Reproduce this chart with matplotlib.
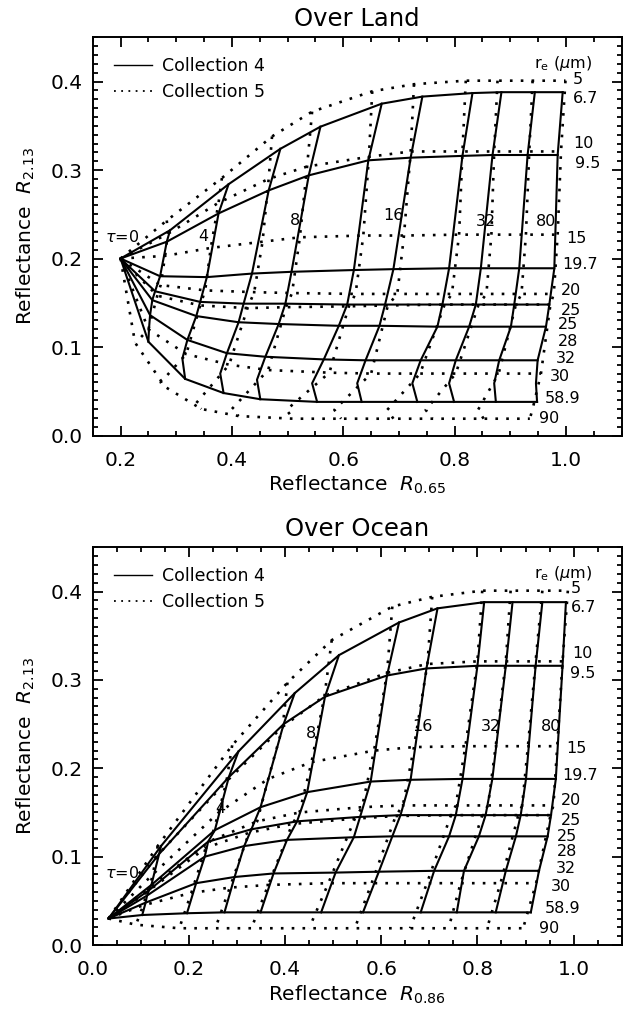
import matplotlib.pyplot as plt
import numpy as np

plt.rcParams['font.family'] = 'DejaVu Sans'
plt.rcParams['mathtext.fontset'] = 'dejavusans'

# ---------------- Over Land ----------------
# rows = effective radius, columns = optical thickness (tau = 0 ... 80+)
# an empty name marks a LUT radius that only bends the tau lines (no r_e curve drawn)
land_c4_re = ['6.7', '9.5', '19.7', '25', '28', '32', '', '58.9']
land_c4_x = [
    [0.200, 0.289, 0.394, 0.487, 0.559, 0.669, 0.742, 0.832, 0.884, 0.944, 0.994],
    [0.200, 0.283, 0.376, 0.466, 0.538, 0.645, 0.721, 0.814, 0.868, 0.931, 0.985],
    [0.200, 0.271, 0.355, 0.436, 0.507, 0.619, 0.690, 0.790, 0.847, 0.916, 0.979],
    [0.200, 0.262, 0.343, 0.421, 0.496, 0.607, 0.675, 0.778, 0.838, 0.907, 0.970],
    [0.200, 0.257, 0.336, 0.412, 0.484, 0.592, 0.665, 0.769, 0.826, 0.901, 0.964],
    [0.200, 0.253, 0.320, 0.391, 0.460, 0.565, 0.640, 0.739, 0.802, 0.880, 0.949],
    [0.200, 0.251, 0.311, 0.379, 0.445, 0.544, 0.625, 0.724, 0.790, 0.871, 0.946],
    [0.200, 0.250, 0.316, 0.385, 0.451, 0.553, 0.633, 0.733, 0.799, 0.874, 0.948],
]
land_c4_y = [
    [0.200, 0.232, 0.284, 0.324, 0.349, 0.375, 0.383, 0.387, 0.388, 0.388, 0.388],
    [0.200, 0.219, 0.251, 0.277, 0.294, 0.311, 0.314, 0.316, 0.317, 0.317, 0.317],
    [0.200, 0.180, 0.179, 0.183, 0.185, 0.187, 0.188, 0.189, 0.189, 0.189, 0.189],
    [0.200, 0.163, 0.151, 0.149, 0.149, 0.148, 0.148, 0.148, 0.148, 0.148, 0.148],
    [0.200, 0.153, 0.135, 0.128, 0.126, 0.124, 0.124, 0.123, 0.123, 0.123, 0.123],
    [0.200, 0.136, 0.108, 0.093, 0.089, 0.086, 0.085, 0.085, 0.085, 0.085, 0.085],
    [0.200, 0.120, 0.087, 0.070, 0.063, 0.059, 0.059, 0.059, 0.059, 0.059, 0.059],
    [0.200, 0.106, 0.064, 0.048, 0.041, 0.038, 0.038, 0.038, 0.038, 0.038, 0.038],
]

land_c5_re = ['5', '10', '15', '20', '25', '30', '', '90']
land_c5_x = [
    [0.200, 0.283, 0.382, 0.472, 0.544, 0.652, 0.727, 0.820, 0.877, 0.940, 0.999],
    [0.200, 0.285, 0.376, 0.466, 0.535, 0.646, 0.721, 0.814, 0.871, 0.934, 0.991],
    [0.200, 0.280, 0.362, 0.455, 0.522, 0.636, 0.709, 0.808, 0.866, 0.928, 0.985],
    [0.200, 0.272, 0.352, 0.440, 0.508, 0.622, 0.697, 0.795, 0.857, 0.920, 0.978],
    [0.200, 0.266, 0.343, 0.428, 0.497, 0.610, 0.680, 0.782, 0.843, 0.910, 0.972],
    [0.200, 0.250, 0.318, 0.395, 0.465, 0.575, 0.650, 0.738, 0.802, 0.879, 0.955],
    [0.200, 0.232, 0.272, 0.335, 0.400, 0.498, 0.584, 0.679, 0.748, 0.842, 0.940],
    [0.200, 0.226, 0.280, 0.345, 0.412, 0.510, 0.596, 0.690, 0.760, 0.852, 0.935],
]
land_c5_y = [
    [0.200, 0.243, 0.291, 0.338, 0.366, 0.389, 0.397, 0.401, 0.401, 0.401, 0.401],
    [0.200, 0.228, 0.263, 0.290, 0.304, 0.315, 0.321, 0.321, 0.321, 0.321, 0.321],
    [0.200, 0.203, 0.212, 0.219, 0.224, 0.226, 0.226, 0.227, 0.227, 0.227, 0.227],
    [0.200, 0.170, 0.164, 0.162, 0.161, 0.160, 0.160, 0.160, 0.160, 0.160, 0.160],
    [0.200, 0.158, 0.147, 0.144, 0.145, 0.146, 0.147, 0.148, 0.148, 0.148, 0.148],
    [0.200, 0.120, 0.092, 0.080, 0.074, 0.071, 0.070, 0.070, 0.070, 0.070, 0.070],
    [0.200, 0.108, 0.060, 0.036, 0.030, 0.029, 0.029, 0.029, 0.029, 0.029, 0.030],
    [0.200, 0.105, 0.055, 0.030, 0.022, 0.019, 0.019, 0.019, 0.019, 0.019, 0.019],
]

# ---------------- Over Ocean ----------------
ocean_c4_re = ['6.7', '9.5', '19.7', '25', '28', '32', '58.9']
ocean_c4_x = [
    [0.033, 0.142, 0.303, 0.420, 0.512, 0.637, 0.717, 0.814, 0.873, 0.935, 0.984],
    [0.033, 0.138, 0.283, 0.397, 0.483, 0.612, 0.694, 0.800, 0.859, 0.921, 0.977],
    [0.033, 0.122, 0.254, 0.349, 0.446, 0.578, 0.661, 0.769, 0.831, 0.901, 0.963],
    [0.033, 0.117, 0.240, 0.330, 0.425, 0.556, 0.640, 0.755, 0.817, 0.890, 0.953],
    [0.033, 0.113, 0.233, 0.315, 0.404, 0.543, 0.623, 0.741, 0.803, 0.880, 0.946],
    [0.033, 0.110, 0.215, 0.295, 0.376, 0.505, 0.595, 0.710, 0.772, 0.859, 0.928],
    [0.033, 0.103, 0.196, 0.274, 0.349, 0.475, 0.562, 0.682, 0.757, 0.838, 0.911],
]
ocean_c4_y = [
    [0.030, 0.112, 0.219, 0.285, 0.328, 0.365, 0.381, 0.388, 0.388, 0.388, 0.388],
    [0.030, 0.103, 0.190, 0.250, 0.281, 0.305, 0.313, 0.316, 0.316, 0.316, 0.316],
    [0.030, 0.068, 0.130, 0.156, 0.173, 0.185, 0.187, 0.188, 0.188, 0.188, 0.188],
    [0.030, 0.062, 0.117, 0.131, 0.140, 0.145, 0.147, 0.147, 0.147, 0.147, 0.147],
    [0.030, 0.056, 0.100, 0.112, 0.119, 0.122, 0.123, 0.123, 0.123, 0.123, 0.123],
    [0.030, 0.048, 0.070, 0.077, 0.081, 0.082, 0.083, 0.084, 0.084, 0.084, 0.084],
    [0.030, 0.034, 0.036, 0.037, 0.037, 0.037, 0.037, 0.037, 0.037, 0.037, 0.037],
]
ocean_c5_re = ['5', '10', '15', '20', '25', '30', '90']
ocean_c5_x = [
    [0.033, 0.135, 0.290, 0.405, 0.497, 0.623, 0.706, 0.810, 0.869, 0.935, 0.988],
    [0.033, 0.132, 0.278, 0.395, 0.482, 0.612, 0.696, 0.800, 0.859, 0.921, 0.977],
    [0.033, 0.125, 0.262, 0.365, 0.455, 0.585, 0.668, 0.775, 0.838, 0.905, 0.966],
    [0.033, 0.118, 0.245, 0.342, 0.430, 0.560, 0.645, 0.755, 0.822, 0.893, 0.958],
    [0.033, 0.113, 0.235, 0.325, 0.415, 0.545, 0.630, 0.745, 0.810, 0.885, 0.952],
    [0.033, 0.105, 0.205, 0.285, 0.365, 0.490, 0.580, 0.695, 0.765, 0.848, 0.922],
    [0.033, 0.090, 0.180, 0.255, 0.330, 0.450, 0.545, 0.660, 0.740, 0.820, 0.895],
]
ocean_c5_y = [
    [0.030, 0.112, 0.226, 0.297, 0.345, 0.383, 0.394, 0.401, 0.401, 0.401, 0.401],
    [0.030, 0.100, 0.185, 0.247, 0.282, 0.308, 0.318, 0.321, 0.321, 0.321, 0.321],
    [0.030, 0.080, 0.150, 0.188, 0.207, 0.220, 0.224, 0.225, 0.225, 0.225, 0.225],
    [0.030, 0.065, 0.118, 0.140, 0.150, 0.156, 0.158, 0.158, 0.158, 0.158, 0.158],
    [0.030, 0.060, 0.110, 0.127, 0.137, 0.143, 0.146, 0.147, 0.147, 0.147, 0.147],
    [0.030, 0.045, 0.059, 0.065, 0.068, 0.070, 0.070, 0.070, 0.070, 0.070, 0.070],
    [0.030, 0.023, 0.019, 0.019, 0.019, 0.019, 0.019, 0.019, 0.019, 0.019, 0.019],
]

# r_e labels on the right (text, x, y) and tau labels
re_labels = ['5', '6.7', '10', '9.5', '15', '19.7', '20', '25', '25', '28', '32', '30', '58.9', '90']
land_re_pos = [(1.012, 0.4025), (1.012, 0.381), (1.013, 0.330), (1.017, 0.3076),
               (1.000, 0.223), (0.994, 0.1927), (0.990, 0.1644), (0.990, 0.1418),
               (0.985, 0.1249), (0.985, 0.106), (0.982, 0.0872), (0.970, 0.0665),
               (0.961, 0.042), (0.952, 0.0194)]
ocean_re_pos = [(0.994, 0.4035), (0.994, 0.382), (0.998, 0.330), (0.993, 0.307),
                (0.984, 0.2225), (0.977, 0.192), (0.974, 0.164), (0.974, 0.1414),
                (0.966, 0.1225), (0.966, 0.1055), (0.963, 0.0867), (0.953, 0.066),
                (0.939, 0.0415), (0.928, 0.019)]
tau_labels = ['4', '8', '16', '32', '80']
land_tau_pos = [(0.349, 0.2246), (0.514, 0.2435), (0.690, 0.249), (0.856, 0.2416), (0.965, 0.2416)]
ocean_tau_pos = [(0.265, 0.155), (0.453, 0.2395), (0.685, 0.247), (0.828, 0.247), (0.953, 0.247)]

DOT = (0, (1, 3.1))


def draw_grid(ax, names, xs, ys, **kw):
    xs = np.array(xs)
    ys = np.array(ys)
    for i, name in enumerate(names):          # constant r_e
        if name:
            ax.plot(xs[i], ys[i], **kw)
    for j in range(1, xs.shape[1]):           # constant tau
        ax.plot(xs[:, j], ys[:, j], **kw)


def style_axes(ax, xmin, xlabel_sub):
    ax.set_xlim(xmin, 1.1)
    ax.set_ylim(0.0, 0.45)
    ax.set_xticks(np.arange(0.0, 1.01, 0.2) if xmin == 0 else np.arange(0.2, 1.01, 0.2))
    ax.set_xticks(np.arange(xmin, 1.1001, 0.05), minor=True)
    ax.set_yticks(np.arange(0.0, 0.41, 0.1))
    ax.set_yticks(np.arange(0.0, 0.4501, 0.01), minor=True)
    ax.xaxis.set_major_formatter(plt.FormatStrFormatter('%.1f'))
    ax.yaxis.set_major_formatter(plt.FormatStrFormatter('%.1f'))
    ax.tick_params(which='both', direction='in', top=True, right=True, width=1.3)
    ax.tick_params(which='major', length=7)
    ax.tick_params(which='minor', length=3.5)
    ax.tick_params(axis='x', which='major', pad=11, labelsize=14.5)
    ax.tick_params(axis='y', which='major', pad=7, labelsize=14.5)
    for s in ax.spines.values():
        s.set_linewidth(1.4)
    ax.set_xlabel(r'Reflectance  $R_{\mathregular{%s}}$' % xlabel_sub, fontsize=14.5, labelpad=3)
    ax.set_ylabel(r'Reflectance  $R_{\mathregular{2.13}}$', fontsize=14.5, labelpad=10)


fig = plt.figure(figsize=(6.29, 10.14), dpi=100)
ax1 = fig.add_axes([0.1474, 0.5705, 0.841, 0.3927])
ax2 = fig.add_axes([0.1474, 0.068, 0.841, 0.3922])

panels = [
    (ax1, 'Over Land', 0.15, '0.65', (land_c4_re, land_c4_x, land_c4_y),
     (land_c5_re, land_c5_x, land_c5_y), land_re_pos, land_tau_pos, (0.172, 0.2246)),
    (ax2, 'Over Ocean', 0.0, '0.86', (ocean_c4_re, ocean_c4_x, ocean_c4_y),
     (ocean_c5_re, ocean_c5_x, ocean_c5_y), ocean_re_pos, ocean_tau_pos, (0.026, 0.081)),
]

for ax, title, xmin, sub, c4, c5, re_pos, tau_pos, tau0 in panels:
    draw_grid(ax, *c5, color='black', lw=1.9, linestyle=DOT, dash_capstyle='butt')
    draw_grid(ax, *c4, color='black', lw=1.5)
    style_axes(ax, xmin, sub)
    ax.set_title(title, fontsize=17.5, pad=8.5)

    h4, = ax.plot([], [], color='black', lw=1.0)
    h5, = ax.plot([], [], color='black', lw=1.3, linestyle=(0, (1, 3)))
    ax.legend([h4, h5], ['Collection 4', 'Collection 5'], loc='upper left',
              bbox_to_anchor=(0.04, 0.95), frameon=False, fontsize=12.5,
              borderpad=0, borderaxespad=0, handlelength=2.2, handletextpad=0.6,
              labelspacing=0.45)

    for txt, (x, y) in zip(re_labels, re_pos):
        ax.text(x, y, txt, fontsize=11.5, ha='left', va='center')
    for txt, (x, y) in zip(tau_labels, tau_pos):
        ax.text(x, y, txt, fontsize=11.5, ha='center', va='center')
    ax.text(tau0[0], tau0[1], r'$\tau$=0', fontsize=11.5, ha='left', va='center')
    ax.text(0.835, 0.935, r'r$_\mathregular{e}$ ($\mu$m)', transform=ax.transAxes,
            fontsize=11.5, ha='left', va='center')

fig.savefig('out.png', dpi=100)
